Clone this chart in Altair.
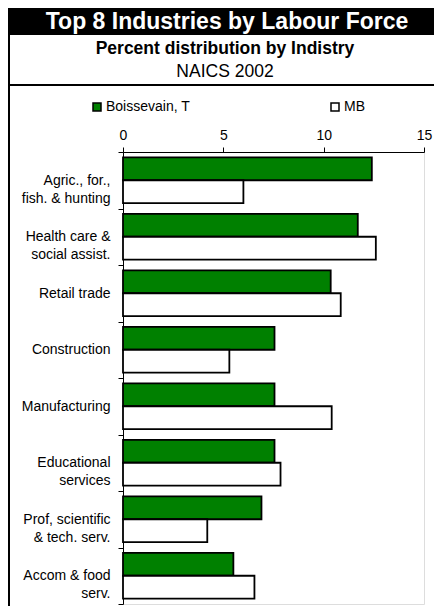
import altair as alt
import pandas as pd

categories = [
    "Agric., for.,\nfish. & hunting",
    "Health care &\nsocial assist.",
    "Retail trade",
    "Construction",
    "Manufacturing",
    "Educational\nservices",
    "Prof, scientific\n& tech. serv.",
    "Accom & food\nserv.",
]
boissevain = [12.4, 11.7, 10.35, 7.55, 7.55, 7.55, 6.9, 5.5]
mb = [6.0, 12.6, 10.85, 5.3, 10.4, 7.85, 4.2, 6.55]
series = ["Boissevain, T", "MB"]
colors = ["#008000", "#ffffff"]
x_ticks = [0, 5, 10, 15]

title = "Top 8 Industries by Labour Force"
subtitle = "Percent distribution by Indistry"
subtitle2 = "NAICS 2002"

rows = []
for c, b, m in zip(categories, boissevain, mb):
    rows.append({"industry": c, "series": series[0], "value": b})
    rows.append({"industry": c, "series": series[1], "value": m})
df = pd.DataFrame(rows)

FONT = "Liberation Sans"
W, H = 301, 452
PL, PT, PR, PB = 115, 144, 10, 2

bars = alt.Chart(df).mark_bar(stroke="black", strokeWidth=1.8).encode(
    x=alt.X("value:Q",
            scale=alt.Scale(domain=[0, 15], nice=False, zero=True),
            axis=alt.Axis(orient="top", values=x_ticks, title=None, grid=False,
                          labelFontSize=14, labelColor="black", labelPadding=5,
                          labelFlush=False, labelOverlap=False,
                          tickSize=5, tickColor="black", domainColor="black",
                          domainWidth=1, labelFont=FONT)),
    y=alt.Y("industry:N", sort=categories,
            scale=alt.Scale(paddingInner=0, paddingOuter=0),
            axis=alt.Axis(title=None, tickBand="extent", tickSize=5,
                          tickColor="black", domainColor="black", domainWidth=1,
                          labelExpr="split(datum.label, '\\n')",
                          labelFontSize=14, labelColor="black", labelFont=FONT,
                          labelLineHeight=18, labelPadding=8, labelAlign="right",
                          labelBaseline="middle")),
    yOffset=alt.YOffset("series:N", sort=series,
                        scale=alt.Scale(paddingInner=0, paddingOuter=0.235)),
    color=alt.Color("series:N", sort=series,
                    scale=alt.Scale(domain=series, range=colors),
                    legend=alt.Legend(title=None, orient="none", direction="horizontal",
                                      legendX=-33, legendY=-52, symbolType="square",
                                      symbolSize=64, symbolStrokeColor="black",
                                      symbolStrokeWidth=1.5, labelFontSize=14,
                                      labelFont=FONT, labelColor="black",
                                      labelOffset=2, columnPadding=137, padding=0)),
)

one = pd.DataFrame({"a": [0]})

band = alt.Chart(one).mark_rect(color="black").encode(
    x=alt.value(-PL), x2=alt.value(W + PR), y=alt.value(-PT), y2=alt.value(-PT + 27))
left_border = alt.Chart(one).mark_rect(color="black").encode(
    x=alt.value(-PL), x2=alt.value(-PL + 2), y=alt.value(-PT), y2=alt.value(H + PB))
hline = alt.Chart(one).mark_rule(color="black", strokeWidth=2).encode(
    x=alt.value(-PL), x2=alt.value(W + PR), y=alt.value(-67))

t1 = alt.Chart(one).mark_text(text=title, font=FONT, fontSize=23, fontWeight="bold",
                              color="white", align="center", baseline="middle").encode(
    x=alt.value(104), y=alt.value(-130))
t2 = alt.Chart(one).mark_text(text=subtitle, font=FONT, fontSize=17.5, fontWeight="bold",
                              color="black", align="center", baseline="middle").encode(
    x=alt.value(102), y=alt.value(-103))
t3 = alt.Chart(one).mark_text(text=subtitle2, font=FONT, fontSize=17.5,
                              color="black", align="center", baseline="middle").encode(
    x=alt.value(102), y=alt.value(-80))

chart = alt.layer(band, left_border, hline, t1, t2, t3, bars).properties(
    width=W, height=H,
    autosize=alt.AutoSizeParams(type="none"),
    padding={"left": PL, "top": PT, "right": PR, "bottom": PB},
    background="white",
).configure_view(stroke=None).configure(font=FONT)

chart.save("out.html", embed_options={"renderer": "svg", "actions": False})
